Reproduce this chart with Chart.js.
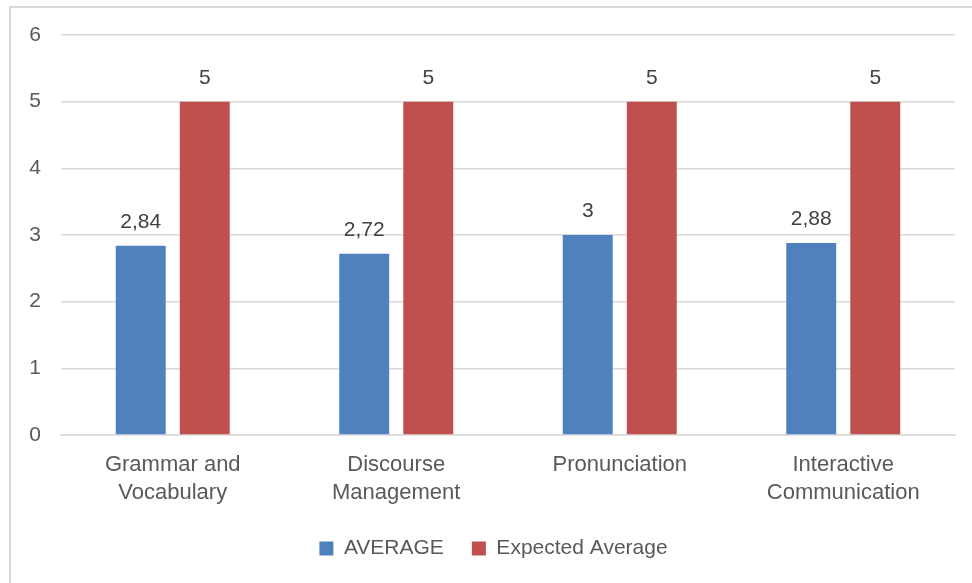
<!DOCTYPE html>
<html>
<head>
<meta charset="utf-8">
<script src="https://cdn.jsdelivr.net/npm/chart.js@4"></script>
<style>
  html, body { margin:0; padding:0; background:#fff; width:972px; height:583px; overflow:hidden; }
  #frame { position:absolute; left:9px; top:6px; width:1000px; height:700px; border:2px solid #d9d9d9; box-sizing:border-box; }
  #wrap { position:absolute; left:0; top:0; width:972px; height:583px; }
</style>
</head>
<body>
<div id="frame"></div>
<div id="wrap"><canvas id="c" width="972" height="583"></canvas></div>
<script>
const categories = [["Grammar and", "Vocabulary"], ["Discourse", "Management"], ["Pronunciation"], ["Interactive", "Communication"]];
const averageValues = [2.84, 2.72, 3, 2.88];
const expectedValues = [5, 5, 5, 5];
const yTicks = [0, 1, 2, 3, 4, 5, 6];

const FONT = "'Liberation Sans', Arial, sans-serif";

const labelPlugin = {
  id: 'valueLabels',
  afterLayout(chart) {
    if (chart.legend) {
      chart.legend.left += 16; chart.legend.right += 16;
      chart.legend.top -= 5; chart.legend.bottom -= 5;
    }
  },
  afterDatasetsDraw(chart) {
    const ctx = chart.ctx;
    ctx.save();
    ctx.font = "21px " + FONT;
    ctx.fillStyle = '#404040';
    ctx.textAlign = 'center';
    ctx.textBaseline = 'bottom';
    chart.data.datasets.forEach((ds, i) => {
      chart.getDatasetMeta(i).data.forEach((bar, j) => {
        const txt = String(ds.data[j]).replace('.', ',');
        ctx.fillText(txt, bar.x, bar.y - 13);
      });
    });
    ctx.restore();
  }
};

new Chart(document.getElementById('c'), {
  type: 'bar',
  data: {
    labels: categories,
    datasets: [
      { label: 'AVERAGE', data: averageValues, backgroundColor: '#4f81bd', categoryPercentage: 0.573, barPercentage: 0.78 },
      { label: 'Expected Average', data: expectedValues, backgroundColor: '#c0504d', categoryPercentage: 0.573, barPercentage: 0.78 }
    ]
  },
  options: {
    responsive: false,
    animation: false,
    layout: { padding: { left: 0, right: 17, top: 35, bottom: 9 } },
    plugins: {
      legend: {
        position: 'bottom',
        labels: { font: { family: FONT, size: 21 }, color: '#595959', boxWidth: 14, boxHeight: 14, padding: 28 }
      },
      tooltip: { enabled: false }
    },
    scales: {
      x: {
        grid: { display: false },
        border: { color: '#d9d9d9', width: 1.5 },
        ticks: { font: { family: FONT, size: 22, lineHeight: 1.27 }, color: '#595959', padding: 8, maxRotation: 0 },
        afterFit(s) { s.height = 80; }
      },
      y: {
        min: 0, max: 6,
        afterBuildTicks(s) { s.ticks = yTicks.map(v => ({ value: v })); },
        grid: { color: '#d9d9d9', lineWidth: 1.5, drawTicks: false },
        border: { display: false },
        ticks: { font: { family: FONT, size: 21 }, color: '#595959', padding: 20 },
        afterFit(s) { s.width = 61; }
      }
    }
  },
  plugins: [labelPlugin]
});
</script>
</body>
</html>
